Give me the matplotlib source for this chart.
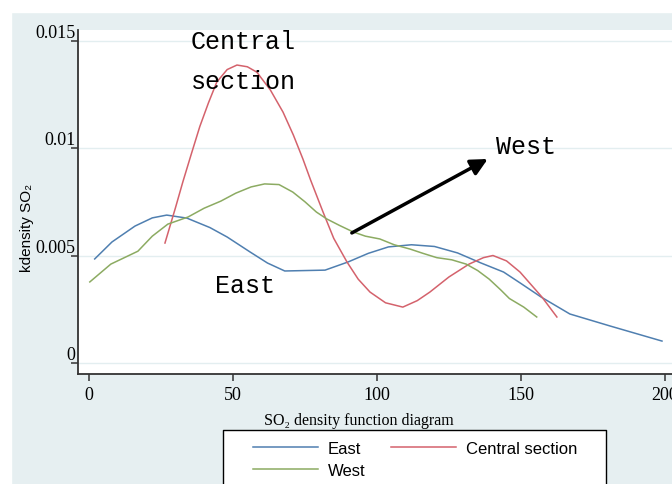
import matplotlib.pyplot as plt
from matplotlib.patches import Rectangle
from matplotlib.lines import Line2D

# kernel density values
east_x = [2, 8, 16, 22, 27, 34, 42, 48, 56, 62, 68, 75, 82, 90, 97, 104, 112, 120, 128, 136, 144, 150, 157, 167, 181, 199]
east_y = [.00484, .00563, .00637, .00675, .00688, .00674, .00630, .00586, .00516, .00465, .00428, .00430, .00432,
          .00470, .00510, .00540, .00550, .00542, .00512, .00466, .00423, .00370, .00307, .00228, .00172, .00102]

central_x = [26.4, 30, 32.6, 35.5, 38.5, 41.5, 44.4, 48, 51.4, 55, 58.3, 63, 67.4, 71, 74.3, 77, 81.3, 85, 89.6,
             93.5, 97.6, 103, 109, 114, 118.4, 125, 132, 137, 140.3, 145, 149.7, 153.5, 157.3, 162.5]
central_y = [.00558, .00720, .00842, .00970, .0110, .0121, .01307, .01365, .01386, .01378, .01353, .01270, .01167,
             .0106, .00949, .0085, .00702, .0058, .0047, .0039, .0033, .0028, .0026, .0029, .0033, .0040, .0046,
             .00490, .0050, .00475, .00423, .00365, .00307, .00214]

west_x = [0.3, 7.6, 17, 22, 27.4, 34.4, 40, 45.8, 51, 56.3, 61, 66, 70.8, 75, 79, 82.6, 87, 91.7, 96, 101, 106,
          111.5, 116, 120.8, 126, 131, 135, 139, 143, 146, 151, 155.5]
west_y = [.00377, .0046, .0052, .0059, .00646, .00679, .00720, .00753, .00790, .00819, .00833, .00830, .00795,
          .00750, .00702, .0067, .0064, .0061, .0059, .00577, .0055, .0053, .0051, .0049, .0048, .0046, .00430,
          .0039, .0034, .0030, .0026, .00214]

x_ticks = [0, 50, 100, 150, 200]
y_ticks = [0, 0.005, 0.01, 0.015]
y_tick_labels = ["0", "0.005", "0.01", "0.015"]

bg = "#e6eff1"
serif = ["Liberation Serif", "DejaVu Serif"]
sans = ["Liberation Sans", "DejaVu Sans"]
mono = ["Liberation Mono", "DejaVu Sans Mono"]

fig = plt.figure(figsize=(6.72, 4.85), dpi=100, facecolor=bg)
# white strips of the screenshot
fig.add_artist(Rectangle((0, 1 - 13 / 485), 1, 13 / 485, transform=fig.transFigure, color="white", zorder=0))
fig.add_artist(Rectangle((0, 0), 11 / 672, 1, transform=fig.transFigure, color="white", zorder=0))

ax = fig.add_axes([78 / 672, 110 / 485, 622 / 672, 344 / 485])
ax.set_facecolor("white")

l_east, = ax.plot(east_x, east_y, color="#4f7fb0", lw=1.1, label="East")
l_central, = ax.plot(central_x, central_y, color="#d4626c", lw=1.1, label="Central section")
l_west, = ax.plot(west_x, west_y, color="#8cab62", lw=1.1, label="West")

ax.set_xlim(-3.8, 212.2)
ax.set_ylim(-0.000512, 0.01549)

ax.set_xticks(x_ticks)
ax.set_xticklabels([str(v) for v in x_ticks], family=serif, fontsize=13)
ax.set_yticks(y_ticks)
ax.set_yticklabels(y_tick_labels, family=serif, fontsize=13, va="bottom")
ax.tick_params(axis="x", length=5, width=1.1, color="#333333", pad=4)
ax.tick_params(axis="y", length=5, width=1.1, color="#333333", pad=-3)
ax.grid(axis="y", color="#e3eef0", lw=1)
ax.set_axisbelow(True)

for s in ["top", "right"]:
    ax.spines[s].set_visible(False)
for s in ["left", "bottom"]:
    ax.spines[s].set_color("#333333")
    ax.spines[s].set_linewidth(1.3)

ax.set_xlabel("SO₂ density function diagram", family=serif, fontsize=11.5)
ax.xaxis.set_label_coords((359 - 78) / 622, -(413 - 375) / 344)
ax.set_ylabel("kdensity SO₂", family=sans, fontsize=11)
ax.yaxis.set_label_coords(-(78 - 34) / 622, (375 - 228) / 344)

# annotations
ax.text(53.5, 0.01498, "Central", family=mono, fontsize=18, ha="center", va="center")
ax.text(53.5, 0.01312, "section", family=mono, fontsize=18, ha="center", va="center")
ax.text(54.2, 0.00363, "East", family=mono, fontsize=18, ha="center", va="center")
ax.text(151.7, 0.01009, "West", family=mono, fontsize=18, ha="center", va="center")
ax.annotate("", xy=(138.5, 0.00949), xytext=(91.3, 0.00605),
            arrowprops=dict(arrowstyle="-|>", lw=2.5, color="black", mutation_scale=25,
                            shrinkA=0, shrinkB=0))

# legend box runs off the bottom of the screenshot
lx0, lx1, ly = 223 / 672, 606 / 672, 1 - 431 / 485
fig.add_artist(Rectangle((lx0, -0.1), lx1 - lx0, ly + 0.1, transform=fig.transFigure,
                         facecolor="white", edgecolor="none", zorder=2))
fig.add_artist(Line2D([lx0, lx0, lx1, lx1], [-0.1, ly, ly, -0.1], transform=fig.transFigure,
                      color="black", lw=1.0, zorder=2.5))
leg = fig.legend([l_east, l_west, l_central], ["East", "West", "Central section"],
                 loc="upper left", bbox_to_anchor=(253 / 672, 1 - 442 / 485), ncol=2,
                 prop={"family": sans, "size": 12}, frameon=False, borderaxespad=0, borderpad=0,
                 handlelength=3.9, handletextpad=0.6, columnspacing=1.55, labelspacing=0.42)
leg.set_zorder(3)

plt.savefig("out.png", dpi=100, facecolor=bg)
